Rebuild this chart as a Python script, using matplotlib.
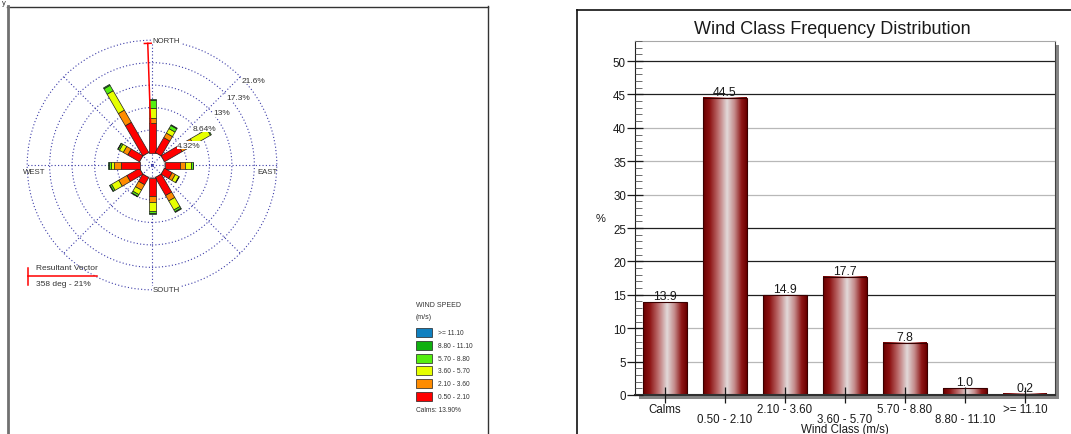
import numpy as np
import matplotlib
matplotlib.use("Agg")
import matplotlib.pyplot as plt
from matplotlib.patches import Rectangle, Circle
from matplotlib.transforms import Affine2D, ScaledTranslation
from matplotlib.colors import LinearSegmentedColormap
from matplotlib.lines import Line2D
from matplotlib.ticker import MultipleLocator

plt.rcParams['font.family'] = ['Liberation Sans', 'DejaVu Sans']

# ---------------- data: wind rose ----------------
directions = [0, 30, 60, 90, 120, 150, 180, 210, 240, 270, 300, 330]
speed_classes = ["0.50 - 2.10", "2.10 - 3.60", "3.60 - 5.70",
                 "5.70 - 8.80", "8.80 - 11.10", ">= 11.10"]
freq_050_210 = [5.7, 3.3, 3.9, 2.9, 1.7, 4.0, 3.5, 1.6, 2.8, 3.6, 2.6, 6.7]
freq_210_360 = [0.9, 1.0, 2.6, 1.0, 0.7, 1.2, 1.2, 1.2, 1.8, 1.25, 1.0, 2.7]
freq_360_570 = [1.9, 1.0, 3.7, 1.2, 0.8, 2.0, 1.7, 1.0, 1.6, 0.7, 0.85, 4.3]
freq_570_880 = [1.6, 0.7, 0.2, 0.3, 0.1, 0.4, 0.45, 0.4, 0.35, 0.35, 0.3, 1.2]
freq_880_1110 = [0.2, 0.15, 0.0, 0.15, 0.0, 0.15, 0.15, 0.1, 0.1, 0.1, 0.1, 0.2]
freq_ge_1110 = [0.0, 0.0, 0.0, 0.0, 0.0, 0.0, 0.0, 0.0, 0.0, 0.0, 0.0, 0.0]
speed_colors = ['#ff0000', '#ff8c00', '#e6ff00', '#55ee10', '#10b010', '#1080c0']
ring_values = [4.32, 8.64, 12.96, 17.28, 21.6]
ring_labels = ["4.32%", "8.64%", "13%", "17.3%", "21.6%"]
resultant_dir = 358
resultant_pct = 21
calms_pct = 13.90

# ---------------- data: bar chart ----------------
wind_classes = ["Calms", "0.50 - 2.10", "2.10 - 3.60", "3.60 - 5.70",
                "5.70 - 8.80", "8.80 - 11.10", ">= 11.10"]
class_freq = [13.9, 44.5, 14.9, 17.7, 7.8, 1.0, 0.2]
y_ticks = [0, 5, 10, 15, 20, 25, 30, 35, 40, 45, 50]

W, H = 1071, 435
fig = plt.figure(figsize=(W / 100, H / 100), dpi=100)


def fx(px):
    return px / W


def fy(py):
    return 1 - py / H


# ---------------- panel frames ----------------
frame_lines = [
    ([7, 488], [7.5, 7.5], '#333333', 1.0),
    ([7.5, 7.5], [7, 436], '#707070', 2.0),
    ([488, 488], [7, 436], '#333333', 1.0),
    ([577, 1072], [11, 11], '#111111', 1.2),
    ([577, 577], [11, 436], '#111111', 1.2),
]
for xs, ys, c, lw in frame_lines:
    fig.add_artist(Line2D([fx(v) for v in xs], [fy(v) for v in ys],
                          transform=fig.transFigure, color=c, lw=lw))
fig.text(fx(1.5), fy(0), 'y', fontsize=5.5, color='#333333', va='top', ha='left')

# ---------------- wind rose ----------------
scale = 5.2          # pixels per percent
calm_px = 12.5
r0 = calm_px / scale
cx, cy = 152, 166
half = 135
ax_r = fig.add_axes([fx(cx - half), fy(cy + half), 2 * half / W, 2 * half / H])
lim = half / scale
ax_r.set_xlim(-lim, lim)
ax_r.set_ylim(-lim, lim)
ax_r.axis('off')

grid_c = '#3c3ca8'
R_out = r0 + ring_values[-1]
for v in ring_values:
    ax_r.add_patch(Circle((0, 0), r0 + v, fill=False, ec=grid_c, lw=0.8,
                          ls=(0, (1, 2)), zorder=1))
for a in range(0, 360, 45):
    t = np.deg2rad(a)
    ax_r.plot([0, R_out * np.sin(t)], [0, R_out * np.cos(t)], color=grid_c,
              lw=0.8, ls=(0, (1, 2)), zorder=1)
ax_r.add_patch(Circle((0, 0), r0, fill=False, ec='#909090', lw=0.6, zorder=2))
ax_r.plot([0], [0], marker='x', ms=2, color=grid_c, mew=0.6, zorder=2)

seg_lists = [freq_050_210, freq_210_360, freq_360_570, freq_570_880,
             freq_880_1110, freq_ge_1110]
bw = 7.0 / scale
for i, d in enumerate(directions):
    tr = Affine2D().rotate_deg(90 - d) + ax_r.transData
    start = r0
    for vals, col in zip(seg_lists, speed_colors):
        v = vals[i]
        if v <= 0:
            continue
        ax_r.add_patch(Rectangle((start, -bw / 2), v, bw, fc=col, ec='#202020',
                                 lw=0.5, transform=tr, zorder=3))
        start += v

# resultant vector
tr = Affine2D().rotate_deg(90 - resultant_dir) + ax_r.transData
r_end = r0 + resultant_pct
cap = 3.4 / scale
ax_r.plot([r0, r_end], [0, 0], color='red', lw=1.1, transform=tr, zorder=5)
ax_r.plot([r_end, r_end], [-cap, cap], color='red', lw=1.1, transform=tr, zorder=5)

# direction labels
lab_kw = dict(fontsize=5.6, color='#333333', zorder=6)
box = dict(fc='white', ec='none', pad=0.4)
ax_r.text(0.1, R_out, 'NORTH', ha='left', va='center', bbox=box, **lab_kw)
ax_r.text(0.1, -R_out, 'SOUTH', ha='left', va='center', bbox=box, **lab_kw)
ax_r.text(R_out + 0.2, -0.5, 'EAST', ha='right', va='top', **lab_kw)
ax_r.text(-R_out - 0.8, -0.5, 'WEST', ha='left', va='top', **lab_kw)

label_angles = [62, 55, 53, 52, 50]
for v, lab, ang in zip(ring_values, ring_labels, label_angles):
    R = r0 + v + 7 / scale
    t = np.deg2rad(ang)
    ax_r.text(R * np.sin(t), R * np.cos(t), lab, ha='center', va='center',
              fontsize=6, color='#333333', zorder=6,
              bbox=dict(fc='white', ec='none', pad=0.3))

# resultant vector legend
fig.add_artist(Line2D([fx(28), fx(97)], [fy(277), fy(277)], transform=fig.transFigure,
                      color='red', lw=1.1))
fig.add_artist(Line2D([fx(28), fx(28)], [fy(269), fy(286)], transform=fig.transFigure,
                      color='red', lw=1.1))
fig.text(fx(36), fy(268.5), 'Resultant Vector', fontsize=6, color='#333333',
         ha='left', va='center')
fig.text(fx(36), fy(284), f'{resultant_dir} deg - {resultant_pct}%', fontsize=6,
         color='#333333', ha='left', va='center')

# wind speed legend
fig.text(fx(416), fy(306), 'WIND SPEED', fontsize=5, color='#333333', ha='left', va='center')
fig.text(fx(416), fy(317.5), '(m/s)', fontsize=5, color='#333333', ha='left', va='center')
for k, (lab, col) in enumerate(zip(speed_classes[::-1], speed_colors[::-1])):
    top = 329 + k * 12.8
    fig.add_artist(Rectangle((fx(416), fy(top + 9)), 16 / W, 9 / H,
                             transform=fig.transFigure, fc=col, ec='#202020', lw=0.5))
    fig.text(fx(438), fy(top + 4.5), lab, fontsize=4.8, color='#333333',
             ha='left', va='center')
fig.text(fx(416), fy(410.5), f'Calms: {calms_pct:.2f}%', fontsize=4.8, color='#333333',
         ha='left', va='center')

# ---------------- bar chart ----------------
pl, pr, pt, pb = 635, 1055, 42, 396
ax_b = fig.add_axes([fx(pl), fy(pb), (pr - pl) / W, (pb - pt) / H])
shadow = Rectangle((fx(pl + 4), fy(pb + 4)), (pr - pl) / W, (pb - pt) / H,
                   transform=fig.transFigure, fc='#858585', ec='none', zorder=-1)
fig.add_artist(shadow)

x = np.arange(len(wind_classes))
grid_colors = ['#b8b8b8', '#b8b8b8', '#202020', '#202020', '#202020',
               '#b8b8b8', '#b8b8b8', '#b8b8b8', '#202020', '#202020']
for v, c in zip(y_ticks[1:], grid_colors):
    ax_b.axhline(v, color=c, lw=0.9, zorder=1)

cmap = LinearSegmentedColormap.from_list('cyl', [
    (0.0, '#6a0000'), (0.15, '#8c1212'), (0.35, '#bd6f6f'),
    (0.55, '#e2dada'), (0.72, '#c48a8a'), (0.88, '#8e1616'), (1.0, '#6a0000')])
grad = np.linspace(0, 1, 256).reshape(1, -1)
bars = ax_b.bar(x, class_freq, width=0.725, color='none', edgecolor='#3a0000',
                lw=0.8, zorder=2.2)
for b in bars:
    ax_b.imshow(grad, extent=[b.get_x(), b.get_x() + b.get_width(), 0, b.get_height()],
                aspect='auto', cmap=cmap, zorder=2.0, interpolation='bilinear')
for xi, v in zip(x, class_freq):
    ax_b.text(xi, v, f'{v:.1f}', ha='center', va='bottom', fontsize=8.8,
              color='#1a1a1a', zorder=4)

ax_b.set_xlim(-0.5, len(wind_classes) - 0.5)
ax_b.set_ylim(0, 53)
ax_b.set_axisbelow(False)
ax_b.set_xticks(x)
ax_b.set_xticklabels(wind_classes)
ax_b.set_yticks(y_ticks)
ax_b.yaxis.set_minor_locator(MultipleLocator(1))
ax_b.tick_params(axis='x', direction='inout', length=11, width=0.9, pad=0,
                 labelsize=8.3, colors='#1a1a1a')
ax_b.tick_params(axis='y', which='major', direction='inout', length=11, width=0.9,
                 pad=1, labelsize=8.3, colors='#1a1a1a')
ax_b.tick_params(axis='y', which='minor', direction='in', length=5, width=0.6,
                 colors='#555555')
for lbl in ax_b.get_xticklabels()[1::2]:
    lbl.set_transform(lbl.get_transform() + ScaledTranslation(0, -0.1, fig.dpi_scale_trans))

ax_b.spines['left'].set_color('#222222')
ax_b.spines['bottom'].set_color('#303030')
ax_b.spines['bottom'].set_linewidth(1.5)
ax_b.spines['top'].set_color('#a8a8a8')
ax_b.spines['top'].set_linewidth(0.8)
ax_b.spines['right'].set_color('#404040')

ax_b.set_xlabel('Wind Class (m/s)', fontsize=8.3, labelpad=-1, color='#1a1a1a')
ax_b.set_ylabel('%', fontsize=8, rotation=0, ha='center', va='center', color='#1a1a1a')
ax_b.yaxis.set_label_coords((601 - pl) / (pr - pl), (pb - 219) / (pb - pt))
fig.text(fx(832.5), fy(29.5), 'Wind Class Frequency Distribution', fontsize=13,
         color='#1a1a1a', ha='center', va='center')

fig.savefig('out.png', dpi=100)
